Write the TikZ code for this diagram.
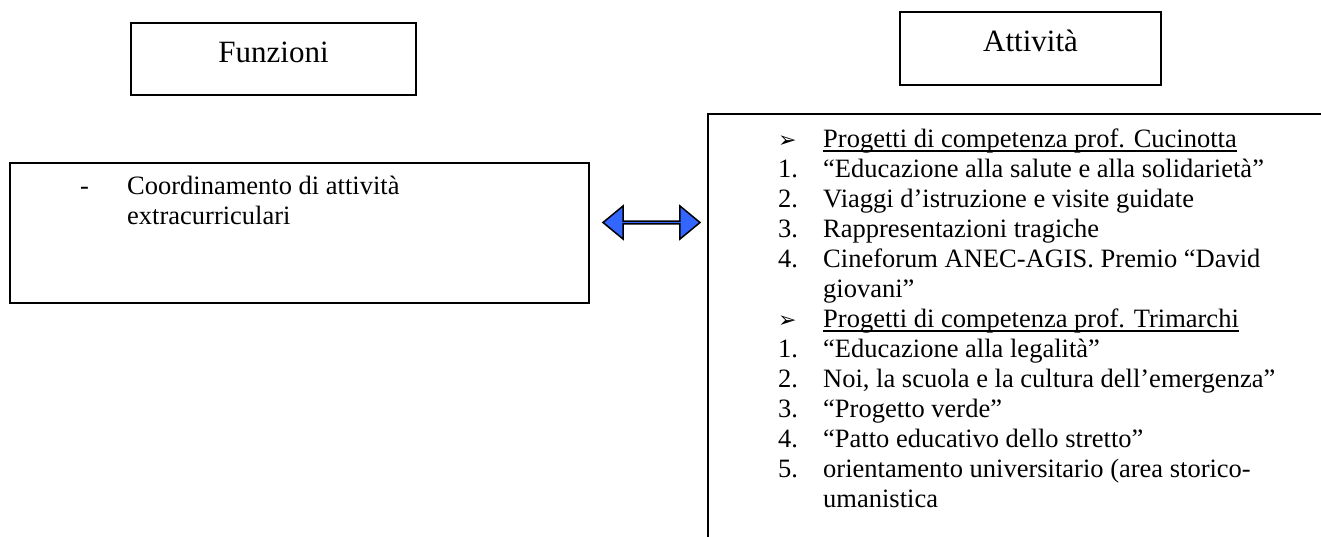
\documentclass[tikz,border=0pt]{standalone}
\usepackage{fontspec}
\setmainfont{Liberation Serif}
\newfontfamily\dingfont{DejaVu Sans}
\usepackage{xcolor}
\usetikzlibrary{shapes.arrows}
\definecolor{arrowblue}{RGB}{51,102,255}
\newcommand{\itembullet}{{\dingfont\fontsize{22}{22}\selectfont ➢}}
\tikzstyle{plainbox} = [draw=black, line width=2pt, rectangle, inner sep=0pt]
\tikzstyle{headtext} = [font=\fontsize{31}{35}\selectfont, anchor=base, inner sep=0pt]
\tikzstyle{bodytext} = [font=\fontsize{26.5}{30}\selectfont, anchor=base west, inner sep=0pt]
\tikzstyle{linkarrow} = [double arrow, draw=black, line width=1.5pt, fill=arrowblue,
minimum height=97pt, minimum width=33pt, double arrow head extend=8pt,
double arrow tip angle=79, inner sep=0pt]

\begin{document}
\begin{tikzpicture}[x=1pt, y=-1pt]
    \useasboundingbox (0,0) rectangle (1321,536);
    \clip (0,0) rectangle (1321,536);
    % headers
    \node [plainbox, minimum width=285pt, minimum height=72pt] (funzbox) at (273.5,59) {};
    \node [headtext] (funztext) at (273.5,62) {Funzioni};
    \node [plainbox, minimum width=261pt, minimum height=73pt] (attbox) at (1030.5,48.5) {};
    \node [headtext] (atttext) at (1030.5,51) {Attività};
    % left box
    \node [plainbox, minimum width=579pt, minimum height=140pt, anchor=north west] (funcbox) at (9,162) {};
    \node [bodytext] (dash) at (80,194) {-};
    \node [bodytext] (coord1) at (127,194) {Coordinamento di attività};
    \node [bodytext] (coord2) at (127,224) {extracurriculari};
    % right box, runs off the page
    \node [plainbox, minimum width=700pt, minimum height=500pt, anchor=north west] (actbox) at (707,113) {};
    \foreach \lab/\txt [count=\i from 0] in {
        \itembullet/{Progetti di competenza prof. Cucinotta},
        1./{“Educazione alla salute e alla solidarietà”},
        2./{Viaggi d’istruzione e visite guidate},
        3./{Rappresentazioni tragiche},
        4./{Cineforum ANEC-AGIS. Premio “David},
        {}/{giovani”},
        \itembullet/{Progetti di competenza prof. Trimarchi},
        1./{“Educazione alla legalità”},
        2./{Noi, la scuola e la cultura dell’emergenza”},
        3./{“Progetto verde”},
        4./{“Patto educativo dello stretto”},
        5./{orientamento universitario (area storico-},
        {}/{umanistica}}{
        \node [bodytext] (lab\i) at (778,147+30*\i) {\lab};
        \node [bodytext] (item\i) at (823,147+30*\i) {\txt};
    }
    % underlines
    \draw [line width=1.6pt] ([yshift=-4pt]item0.base west) -- ([yshift=-4pt]item0.base east);
    \draw [line width=1.6pt] ([yshift=-4pt]item6.base west) -- ([yshift=-4pt]item6.base east);
    % link
    \node [linkarrow] (link) at (651.5,222.5) {};
\end{tikzpicture}
\end{document}
